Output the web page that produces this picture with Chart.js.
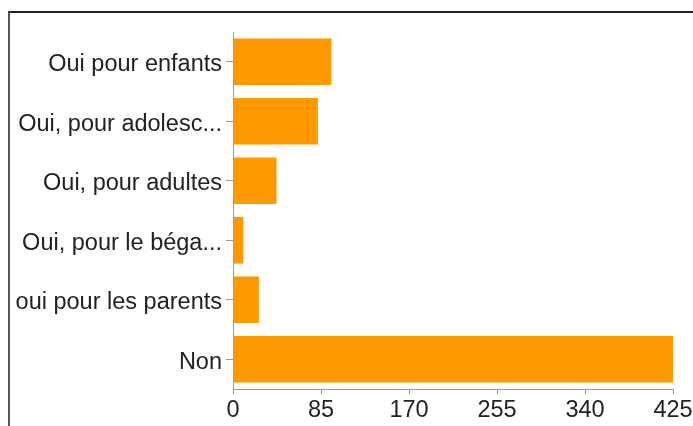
<!DOCTYPE html>
<html>
<head>
<meta charset="utf-8">
<script src="https://cdn.jsdelivr.net/npm/chart.js@4.4.1/dist/chart.umd.min.js"></script>
<style>
  html, body { margin: 0; padding: 0; background: #fff; }
  #wrap { position: relative; width: 693px; height: 426px; overflow: hidden; }
  /* cadre du panneau, coupé à droite et en bas */
  #cadre {
    position: absolute; left: 8px; top: 11px; width: 720px; height: 440px;
    border-top: 2px solid #222; border-left: 2px solid #555;
  }
  #grafica { position: absolute; left: 0; top: 0; }
</style>
</head>
<body>
<div id="wrap">
  <div id="cadre"></div>
  <canvas id="grafica" width="693" height="426"></canvas>
</div>
<script>
const categorias = [
  "Oui pour enfants",
  "Oui, pour adolesc...",
  "Oui, pour adultes",
  "Oui, pour le béga...",
  "oui pour les parents",
  "Non"
]
const reponses = [95, 82, 42, 10, 25, 425]
const ticksX = [0, 85, 170, 255, 340, 425]

const ctx = document.getElementById('grafica').getContext('2d')

Chart.defaults.font.family = '"Liberation Sans", Arial, Helvetica, sans-serif'
Chart.defaults.font.size = 23.5
Chart.defaults.color = '#222'

new Chart(ctx, {
  type: 'bar',
  data: {
    labels: categorias,
    datasets: [{
      data: reponses,
      backgroundColor: '#ff9900',
      borderWidth: 0,
      barPercentage: 0.785,
      categoryPercentage: 1
    }]
  },
  options: {
    indexAxis: 'y',
    responsive: false,
    animation: false,
    layout: { padding: { left: 0, top: 32, right: 20, bottom: 0 } },
    plugins: {
      legend: { display: false },
      tooltip: { enabled: false }
    },
    scales: {
      x: {
        min: ticksX[0],
        max: ticksX[ticksX.length - 1],
        afterBuildTicks: (scale) => { scale.ticks = ticksX.map(v => ({ value: v })) },
        grid: { drawOnChartArea: false, tickLength: 5, color: '#999' },
        border: { color: '#999' },
        ticks: { padding: 2, maxRotation: 0, autoSkip: false },
        afterFit: (scale) => {
          scale.height = 37
          scale.paddingRight = 0
        }
      },
      y: {
        grid: { drawOnChartArea: false, offset: false, tickLength: 7, color: '#999' },
        border: { color: '#999' },
        ticks: { padding: 4, autoSkip: false, labelOffset: 3 },
        afterFit: (scale) => { scale.width = 233 }
      }
    }
  }
})
</script>
</body>
</html>
